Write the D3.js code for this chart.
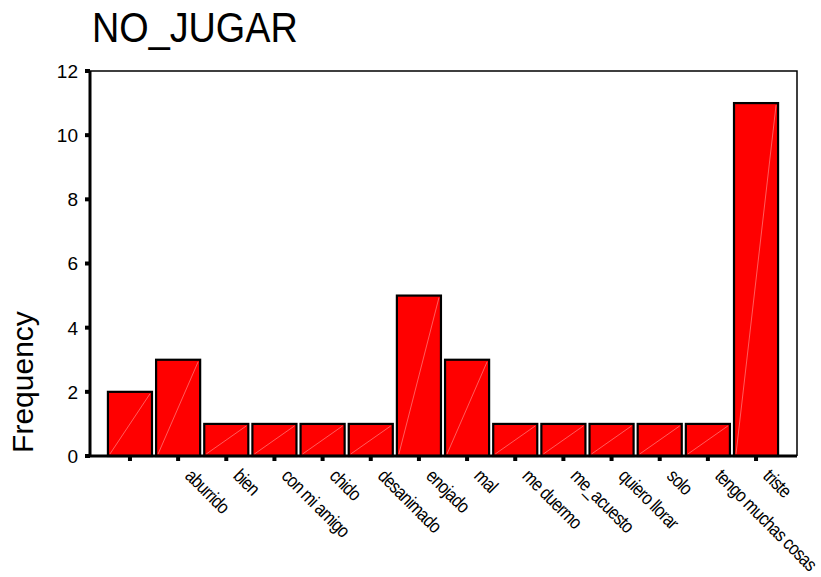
<!DOCTYPE html>
<html>
<head>
<meta charset="utf-8">
<script src="https://cdn.jsdelivr.net/npm/d3@7"></script>
<style>
  body { margin: 0; background: #fff; }
  svg { font-family: Arial, "Liberation Sans", sans-serif; }
</style>
</head>
<body>
<svg id="chart" width="821" height="577"></svg>
<script>
// categories and frequencies
const categories = ["", "aburrido", "bien", "con mi amigo", "chido", "desanimado", "enojado",
  "mal", "me duermo", "me_acuesto", "quiero llorar", "solo", "tengo muchas cosas", "triste"];
const counts = [2, 3, 1, 1, 1, 1, 5, 3, 1, 1, 1, 1, 1, 11];
const yTicks = [0, 2, 4, 6, 8, 10, 12];

const svg = d3.select("#chart");
const plot = { left: 90, top: 71, right: 797, bottom: 456 };

const x = d3.scaleBand()
  .domain(categories)
  .range([plot.left + 16, plot.right - 17])
  .paddingInner(0.085)
  .paddingOuter(0.04);

const y = d3.scaleLinear().domain([0, 12]).range([plot.bottom, plot.top]);

// title
svg.append("text")
  .attr("transform", "translate(92, 42) scale(0.9, 1)")
  .style("font-size", "42px")
  .text("NO_JUGAR");

// frame (top + right thin)
svg.append("path")
  .attr("d", `M${plot.left},${plot.top}H${plot.right}V${plot.bottom}`)
  .attr("fill", "none")
  .attr("stroke", "#000")
  .attr("stroke-width", 1.5);

// bars
const bars = svg.append("g").selectAll("g.bar")
  .data(categories.map((c, i) => ({ c, v: counts[i] })))
  .join("g").attr("class", "bar");

bars.append("rect")
  .attr("x", d => x(d.c))
  .attr("y", d => y(d.v))
  .attr("width", x.bandwidth())
  .attr("height", d => y(0) - y(d.v))
  .attr("fill", "#ff0000")
  .attr("stroke", "#000")
  .attr("stroke-width", 2.2);

bars.append("line")
  .attr("x1", d => x(d.c) + 2).attr("y1", y(0) - 2)
  .attr("x2", d => x(d.c) + x.bandwidth() - 2).attr("y2", d => y(d.v) + 2)
  .attr("stroke", "#ff9a9a")
  .attr("stroke-width", 0.6);

// y axis
const yAxis = svg.append("g");
yAxis.append("line")
  .attr("x1", plot.left).attr("x2", plot.left)
  .attr("y1", plot.top).attr("y2", plot.bottom + 1)
  .attr("stroke", "#000").attr("stroke-width", 3);
yAxis.selectAll("rect.tick")
  .data(yTicks).join("rect")
  .attr("x", plot.left - 5).attr("y", d => y(d) - 2)
  .attr("width", 5).attr("height", 4)
  .attr("fill", "#000");
yAxis.selectAll("text")
  .data(yTicks).join("text")
  .attr("x", 78).attr("y", d => y(d))
  .attr("dy", "0.36em")
  .attr("text-anchor", "end")
  .style("font-size", "19px")
  .text(d => d);

svg.append("text")
  .attr("transform", "translate(33, 382) rotate(-90)")
  .attr("text-anchor", "middle")
  .style("font-size", "30px")
  .text("Frequency");

// x axis
const xAxis = svg.append("g");
xAxis.append("line")
  .attr("x1", plot.left - 1).attr("x2", plot.right)
  .attr("y1", plot.bottom).attr("y2", plot.bottom)
  .attr("stroke", "#000").attr("stroke-width", 3);
xAxis.selectAll("rect.tick")
  .data(categories).join("rect")
  .attr("x", d => x(d) + x.bandwidth() / 2 - 2).attr("y", plot.bottom)
  .attr("width", 4).attr("height", 5)
  .attr("fill", "#000");
xAxis.selectAll("text")
  .data(categories).join("text")
  .attr("transform", d => `translate(${x(d) + x.bandwidth() / 2 + 6}, ${plot.bottom + 21}) rotate(45) scale(0.85, 1)`)
  .style("font-size", "19px")
  .style("letter-spacing", "-0.9px")
  .text(d => d);
</script>
</body>
</html>
